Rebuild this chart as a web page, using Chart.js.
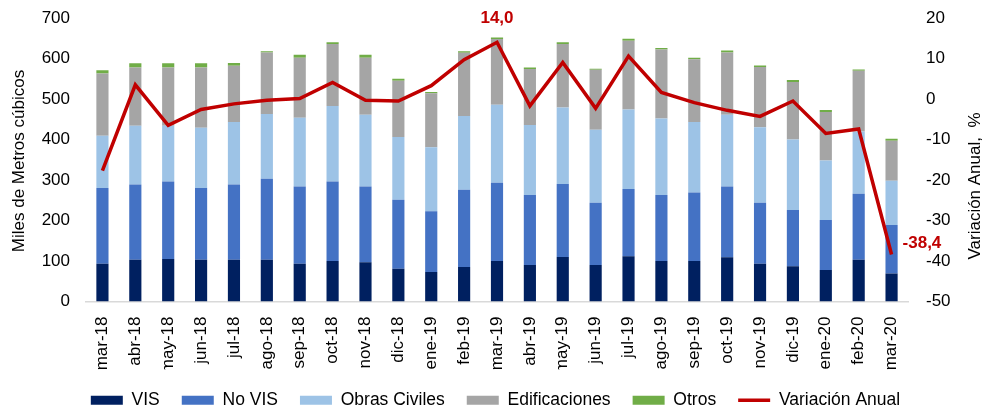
<!DOCTYPE html>
<html>
<head>
<meta charset="utf-8">
<script src="https://cdn.jsdelivr.net/npm/chart.js@4"></script>
<style>
  html, body { margin: 0; padding: 0; background: #fff; }
  #wrap { width: 991px; height: 411px; }
</style>
</head>
<body>
<div id="wrap"><canvas id="chart" width="991" height="411"></canvas></div>
<script>
// months
const labels = ['mar-18','abr-18','may-18','jun-18','jul-18','ago-18','sep-18','oct-18','nov-18','dic-18','ene-19','feb-19',
                'mar-19','abr-19','may-19','jun-19','jul-19','ago-19','sep-19','oct-19','nov-19','dic-19','ene-20','feb-20','mar-20'];

// miles de m3, stacked
const vis       = [93,103,105,103,103,103,93,100,97,81,73,85,100,90,110,90,112,100,100,109,93,87,78,103,69];
const noVis     = [187,186,191,177,186,200,191,196,187,170,150,191,193,173,180,154,166,163,169,175,151,139,123,163,120];
const obras     = [129,145,138,149,154,160,170,187,177,155,158,182,193,173,189,180,196,189,174,177,186,174,147,154,109];
const edif      = [154,144,144,149,139,152,148,153,141,139,133,156,162,138,157,148,170,170,155,154,149,142,120,150,99];
const otros     = [8,10,10,10,7,3,7,4,7,5,3,4,4,4,4,3,5,4,4,5,4,5,5,3,5];

// variacion anual %
const variacion = [-17.7,3.5,-6.5,-2.6,-1.2,-0.3,0.1,4.1,-0.3,-0.5,3.3,9.7,14.0,-1.7,9.0,-2.3,10.6,1.6,-0.9,-2.8,-4.3,-0.5,-8.5,-7.4,-38.4];

const leftTicks = [0, 700, 100];
const rightTicks = [-50, 20, 10];

const font = 'Liberation Sans, Arial, sans-serif';
const red = '#C00000';

function bar(label, data, color) {
    return {
        type: 'bar', label: label, data: data, backgroundColor: color,
        borderWidth: 0, yAxisID: 'y', stack: 's', order: 1, pointStyle: 'rect',
        barPercentage: 0.37, categoryPercentage: 1
    };
}

// axis titles + the two value labels
const extras = {
    id: 'extras',
    afterDraw(chart) {
        const ctx = chart.ctx;
        ctx.save();
        ctx.fillStyle = '#000';
        ctx.font = '17px ' + font;
        ctx.textAlign = 'center';
        ctx.textBaseline = 'middle';
        [[19, 161, 'Miles de Metros cúbicos'], [975, 186, 'Variación Anual,  %']].forEach(([x, y, t]) => {
            ctx.save();
            ctx.translate(x, y);
            ctx.rotate(-Math.PI / 2);
            ctx.fillText(t, 0, 0);
            ctx.restore();
        });

        const meta = chart.getDatasetMeta(5);
        ctx.fillStyle = red;
        ctx.font = 'bold 17px ' + font;
        const fmt = v => v.toFixed(1).replace('.', ',');
        let p = meta.data[12];
        ctx.textAlign = 'center';
        ctx.fillText(fmt(variacion[12]), p.x, p.y - 24);
        p = meta.data[24];
        ctx.textAlign = 'left';
        ctx.fillText(fmt(variacion[24]), p.x + 11, p.y - 11);
        ctx.restore();
    }
};

// fixed axis width, no extra label padding above/below the plot
function fixY(w) {
    return s => { s.width = w; s.paddingTop = 0; s.paddingBottom = 0; };
}

new Chart(document.getElementById('chart').getContext('2d'), {
    data: {
        labels: labels,
        datasets: [
            bar('VIS', vis, '#002060'),
            bar('No VIS', noVis, '#4472C4'),
            bar('Obras Civiles', obras, '#9DC3E6'),
            bar('Edificaciones', edif, '#A5A5A5'),
            bar('Otros', otros, '#70AD47'),
            {
                type: 'line', label: 'Variación Anual', data: variacion, yAxisID: 'y1',
                borderColor: red, backgroundColor: red, borderWidth: 3.5,
                pointRadius: 0, tension: 0, order: 0, pointStyle: 'line'
            }
        ]
    },
    options: {
        responsive: false,
        animation: false,
        layout: { padding: { top: 18, bottom: -8, left: 0, right: 0 } },
        plugins: {
            tooltip: { enabled: false },
            legend: {
                position: 'bottom',
                labels: {
                    usePointStyle: true, pointStyleWidth: 32, boxHeight: 9,
                    padding: 22, color: '#000',
                    font: { family: font, size: 17.5 },
                    sort: (a, b) => a.datasetIndex - b.datasetIndex
                }
            }
        },
        scales: {
            x: {
                stacked: true,
                grid: { display: false },
                border: { display: true, color: '#D9D9D9', width: 1.5 },
                ticks: { minRotation: 90, maxRotation: 90, padding: 7, color: '#000', font: { family: font, size: 17 } },
                afterFit(s) { s.height = 68; }
            },
            y: {
                stacked: true, position: 'left',
                min: leftTicks[0], max: leftTicks[1],
                grid: { display: false, drawTicks: false },
                border: { display: false },
                ticks: { stepSize: leftTicks[2], padding: 16, color: '#000', font: { family: font, size: 17 } },
                afterFit: fixY(86)
            },
            y1: {
                position: 'right',
                min: rightTicks[0], max: rightTicks[1],
                grid: { display: false, drawTicks: false },
                border: { display: false },
                ticks: { stepSize: rightTicks[2], padding: 18, color: '#000', font: { family: font, size: 17 } },
                afterFit: fixY(83)
            }
        }
    },
    plugins: [extras]
});
</script>
</body>
</html>
